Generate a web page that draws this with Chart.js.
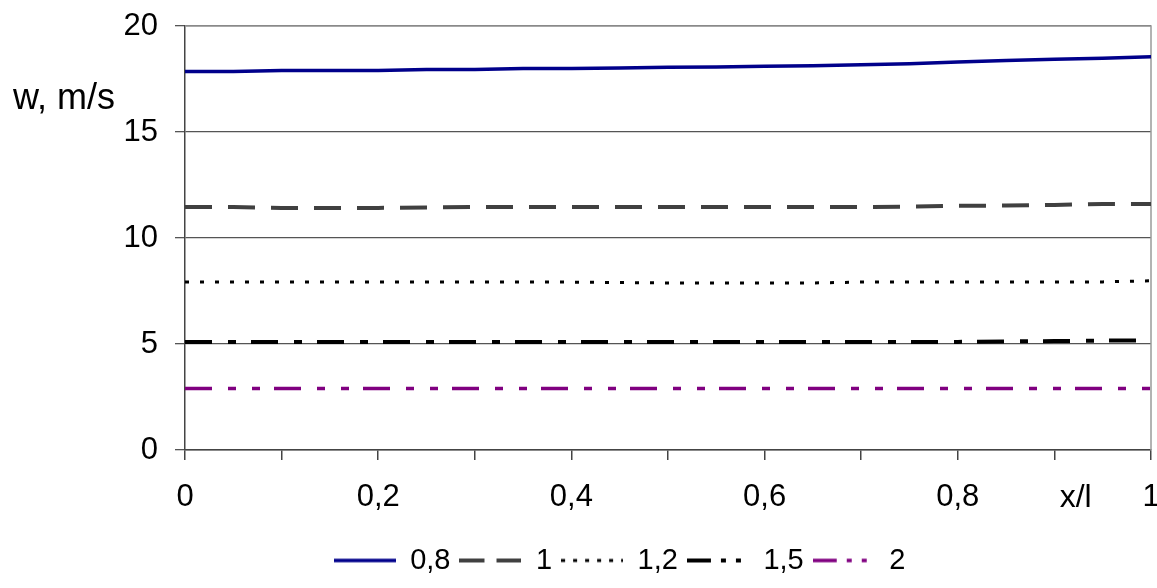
<!DOCTYPE html>
<html>
<head>
    <meta charset="UTF-8">
    <title>w vs x/l</title>
    <style>
        body { margin: 0; background: #fff; }
        #wrap { width: 1157px; height: 588px; }
    </style>
</head>
<body>
    <div id="wrap"><canvas id="chart"></canvas></div>

    <script src="https://cdn.jsdelivr.net/npm/chart.js"></script>
    <script>
        // data
        const xValues = [0, 0.05, 0.1, 0.15, 0.2, 0.25, 0.3, 0.35, 0.4, 0.45, 0.5,
                         0.55, 0.6, 0.65, 0.7, 0.75, 0.8, 0.85, 0.9, 0.95, 1];
        const seriesNames = ['0,8', '1', '1,2', '1,5', '2'];
        const w08 = [17.85, 17.85, 17.9, 17.9, 17.9, 17.95, 17.95, 18.0, 18.0, 18.02, 18.05,
                     18.07, 18.1, 18.12, 18.17, 18.22, 18.3, 18.37, 18.43, 18.48, 18.55];
        const w10 = [11.46, 11.46, 11.42, 11.42, 11.42, 11.44, 11.46, 11.46, 11.46, 11.46, 11.46,
                     11.46, 11.46, 11.46, 11.46, 11.48, 11.52, 11.53, 11.56, 11.6, 11.6];
        const w12 = [7.92, 7.92, 7.92, 7.92, 7.92, 7.92, 7.92, 7.92, 7.92, 7.9, 7.88,
                     7.88, 7.88, 7.88, 7.92, 7.92, 7.92, 7.92, 7.92, 7.93, 7.98];
        const w15 = [5.1, 5.1, 5.1, 5.1, 5.1, 5.1, 5.1, 5.1, 5.1, 5.1, 5.1,
                     5.1, 5.1, 5.1, 5.1, 5.1, 5.1, 5.12, 5.14, 5.16, 5.17];
        const w20 = [2.9, 2.9, 2.9, 2.9, 2.9, 2.9, 2.9, 2.9, 2.9, 2.9, 2.9,
                     2.9, 2.9, 2.9, 2.9, 2.9, 2.9, 2.9, 2.9, 2.9, 2.9];
        const xTickLabels = {0: '0', 2: '0,2', 4: '0,4', 6: '0,6', 8: '0,8', 10: '1'};
        const yLabel = 'w, m/s';
        const xLabel = 'x/l';

        const pts = arr => arr.map((v, i) => ({x: xValues[i], y: v}));
        const font = 'Liberation Sans, Arial, sans-serif';

        function line(label, data, color, width, dash, legendDash) {
            return {
                label: label,
                data: pts(data),
                borderColor: color,
                backgroundColor: color,
                borderWidth: width,
                borderDash: dash,
                legendDash: legendDash,
                pointRadius: 0,
                tension: 0,
                fill: false
            };
        }

        // small picture of a dashed line for the legend
        function legendSample(ds) {
            const cv = document.createElement('canvas');
            cv.width = 62;
            cv.height = 8;
            const c = cv.getContext('2d');
            c.strokeStyle = ds.borderColor;
            c.lineWidth = ds.borderWidth;
            c.setLineDash(ds.legendDash);
            c.beginPath();
            c.moveTo(0, 4);
            c.lineTo(62, 4);
            c.stroke();
            return cv;
        }

        // labels + plot frame
        const extras = {
            id: 'extras',
            beforeDatasetsDraw(chart) {
                const c = chart.ctx, a = chart.chartArea;
                c.save();
                c.strokeStyle = '#9a9a9a';
                c.lineWidth = 1.5;
                c.beginPath();
                c.moveTo(a.left, a.top);
                c.lineTo(a.right, a.top);
                c.lineTo(a.right, a.bottom);
                c.stroke();
                c.restore();
            },
            afterDraw(chart) {
                const c = chart.ctx;
                c.save();
                c.fillStyle = '#000';
                c.font = '36px ' + font;
                c.textBaseline = 'middle';
                c.textAlign = 'left';
                c.fillText(yLabel, 13, 99);
                c.font = '32px ' + font;
                c.textAlign = 'center';
                c.fillText(xLabel, chart.scales.x.getPixelForValue(0.922), 498);
                c.restore();
            }
        };

        new Chart(document.getElementById('chart'), {
            type: 'line',
            data: {
                datasets: [
                    line(seriesNames[0], w08, '#00008b', 3.5, [], []),
                    line(seriesNames[1], w10, '#404040', 4, [27, 16], [25, 12]),
                    line(seriesNames[2], w12, '#000000', 3, [4, 11], [4, 8]),
                    line(seriesNames[3], w15, '#000000', 4, [27, 16, 8, 15], [24, 10, 5, 10, 5, 10]),
                    line(seriesNames[4], w20, '#800080', 3.5, [27, 16, 8, 16, 8, 14], [24, 10, 5, 10, 5, 10])
                ]
            },
            options: {
                responsive: true,
                maintainAspectRatio: false,
                animation: false,
                layout: { padding: { left: 88, right: 6, top: 26, bottom: 3 } },
                plugins: {
                    legend: {
                        position: 'bottom',
                        labels: {
                            usePointStyle: true,
                            pointStyleWidth: 62,
                            color: '#000',
                            padding: 9,
                            font: { family: font, size: 29 },
                            generateLabels(chart) {
                                return chart.data.datasets.map((ds, i) => ({
                                    text: ds.label,
                                    fillStyle: ds.borderColor,
                                    strokeStyle: ds.borderColor,
                                    lineWidth: 0,
                                    pointStyle: legendSample(ds),
                                    fontColor: '#000',
                                    hidden: false,
                                    datasetIndex: i
                                }));
                            }
                        }
                    },
                    tooltip: { enabled: false }
                },
                scales: {
                    x: {
                        type: 'linear',
                        min: 0,
                        max: 1,
                        afterFit(s) { s.height = 87; s.paddingLeft = 0; s.paddingRight = 0; },
                        border: { display: true, color: '#444', width: 1.5 },
                        grid: { drawOnChartArea: false, drawTicks: true, tickLength: 10, color: '#444', lineWidth: 1.5 },
                        ticks: {
                            stepSize: 0.1,
                            autoSkip: false,
                            maxRotation: 0,
                            padding: 19,
                            color: '#000',
                            font: { family: font, size: 31 },
                            callback: (v, i) => xTickLabels[i] || ''
                        }
                    },
                    y: {
                        min: 0,
                        max: 20,
                        afterFit(s) { s.width = 97; s.paddingTop = 0; s.paddingBottom = 0; },
                        border: { display: true, color: '#444', width: 1.5 },
                        grid: { color: '#555', lineWidth: 1.3, tickLength: 10 },
                        ticks: {
                            stepSize: 5,
                            padding: 17,
                            color: '#000',
                            font: { family: font, size: 31 }
                        }
                    }
                }
            },
            plugins: [extras]
        });
    </script>
</body>
</html>
